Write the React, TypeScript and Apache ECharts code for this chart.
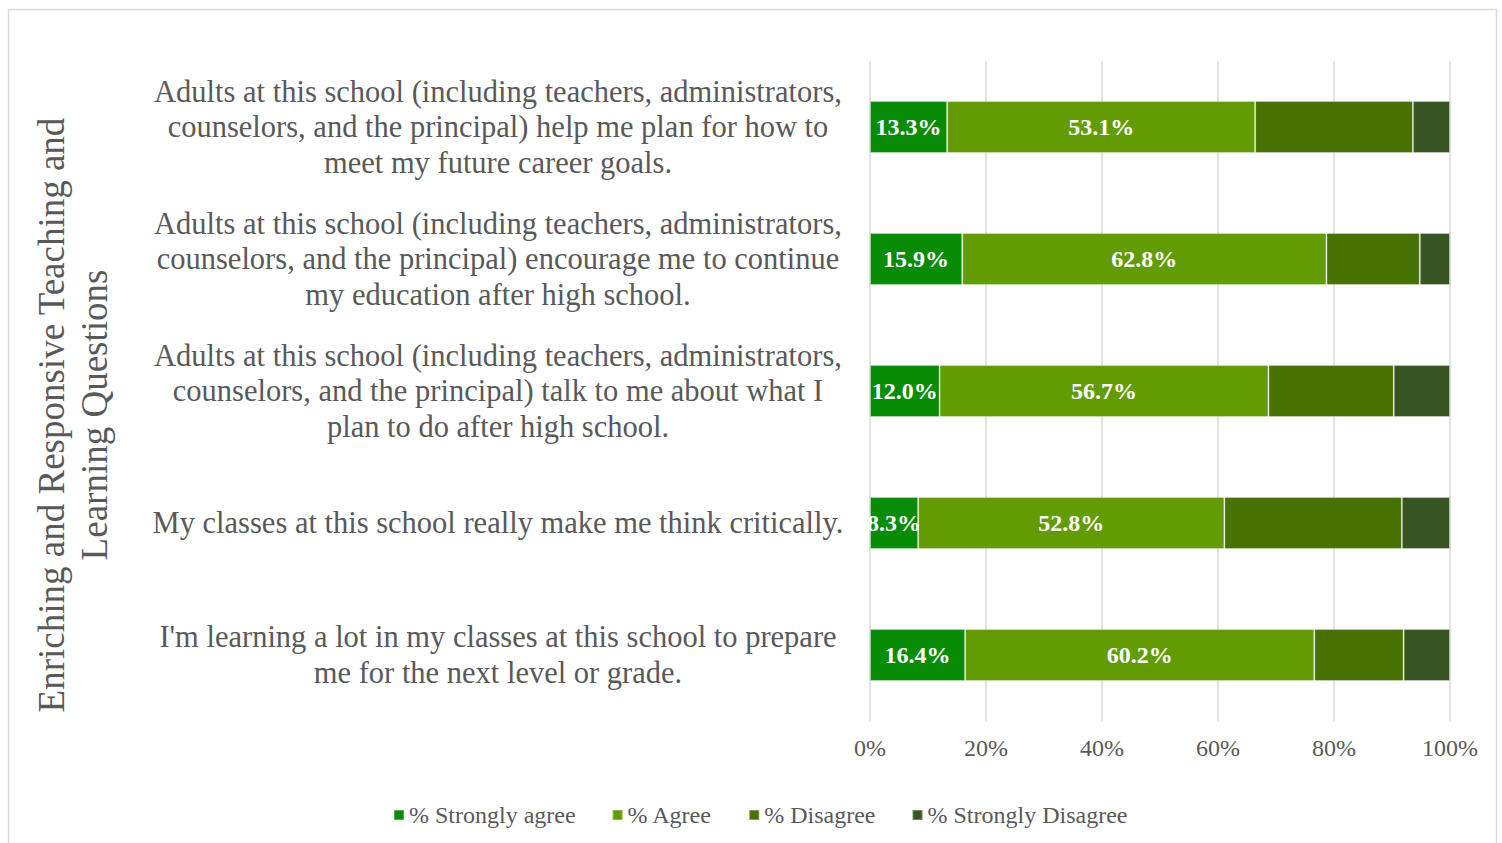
import React, { useEffect, useRef } from "react";
import * as echarts from "echarts";

const categories = [
  "Adults at this school (including teachers, administrators,\ncounselors, and the principal) help me plan for how to\nmeet my future career goals.",
  "Adults at this school (including teachers, administrators,\ncounselors, and the principal) encourage me to continue\nmy education after high school.",
  "Adults at this school (including teachers, administrators,\ncounselors, and the principal) talk to me about what I\nplan to do after high school.",
  "My classes at this school really make me think critically.",
  "I'm learning a lot in my classes at this school to prepare\nme for the next level or grade.",
];
const stronglyAgree = [13.3, 15.9, 12.0, 8.3, 16.4];
const agree = [53.1, 62.8, 56.7, 52.8, 60.2];
const disagree = [27.2, 16.1, 21.6, 30.6, 15.4];
const stronglyDisagree = [6.4, 5.2, 9.7, 8.3, 8.0];
const xTicks = [0, 20, 40, 60, 80, 100];
const seriesNames = ["% Strongly agree", "% Agree", "% Disagree", "% Strongly Disagree"];
const yTitle = "Enriching and Responsive Teaching and\nLearning Questions";

const FONT = "'Liberation Serif', 'Times New Roman', serif";
const GRAY = "#595959";
const colors = ["#088C06", "#639B02", "#477202", "#385623"];

export default function App() {
  const ref = useRef<HTMLDivElement>(null);
  useEffect(() => {
    if (!ref.current) return;
    const chart = echarts.init(ref.current, null, { renderer: "svg" });
    const values = [stronglyAgree, agree, disagree, stronglyDisagree];
    const labelFor = (i: number) =>
      i < 2
        ? {
            show: true,
            position: "inside",
            color: "#ffffff",
            fontFamily: FONT,
            fontWeight: "bold",
            fontSize: 24,
            formatter: (p: any) => `${Number(p.value).toFixed(1)}%`,
          }
        : { show: false };
    chart.setOption({
      animation: false,
      textStyle: { fontFamily: FONT },
      color: colors,
      graphic: [
        {
          type: "rect",
          shape: { x: 8.5, y: 9.5, width: 1488, height: 860 },
          style: { fill: "none", stroke: "#d9d9d9", lineWidth: 1.5 },
          silent: true,
        },
        {
          type: "text",
          x: 73,
          y: 415,
          rotation: Math.PI / 2,
          style: {
            text: yTitle,
            fill: GRAY,
            font: `37px ${FONT}`,
            lineHeight: 43,
            align: "center",
            verticalAlign: "middle",
          },
          silent: true,
        },
      ],
      legend: {
        data: seriesNames,
        top: 798,
        left: 388,
        itemWidth: 10,
        itemHeight: 10,
        itemGap: 36,
        icon: "rect",
        textStyle: { color: GRAY, fontSize: 24, fontFamily: FONT },
      },
      grid: { left: 870, right: 52, top: 61, bottom: 122, containLabel: false },
      xAxis: {
        type: "value",
        min: 0,
        max: 100,
        interval: 20,
        axisLine: { show: false },
        axisTick: { show: false },
        splitLine: { show: true, lineStyle: { color: "#d9d9d9", width: 1.5 } },
        axisLabel: {
          color: GRAY,
          fontSize: 24,
          fontFamily: FONT,
          margin: 15,
          formatter: (v: number) => (xTicks.includes(v) ? `${v}%` : ""),
        },
      },
      yAxis: {
        type: "category",
        inverse: true,
        data: categories,
        axisLine: { show: false },
        axisTick: { show: false },
        axisLabel: {
          color: GRAY,
          fontSize: 30.5,
          fontFamily: FONT,
          lineHeight: 35.5,
          align: "center",
          margin: 372,
        },
      },
      series: seriesNames.map((name, i) => ({
        name,
        type: "bar",
        stack: "total",
        barWidth: 52,
        data: values[i],
        itemStyle: { color: colors[i], borderColor: "rgba(255,255,255,0.3)", borderWidth: 1 },
        label: labelFor(i),
      })),
    });
    return () => chart.dispose();
  }, []);
  return (
    <div
      ref={ref}
      style={{ position: "fixed", left: 0, top: 0, width: 1502, height: 843, background: "#fff" }}
    />
  );
}
